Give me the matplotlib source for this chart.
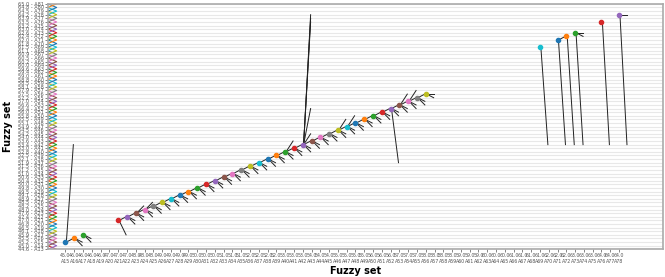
import matplotlib
matplotlib.use("Agg")
from matplotlib import pyplot as plt

# fuzzy sets A13..A81 and their centroids
set_ids = list(range(13, 82))
centroids = [44.65, 44.95, 45.25, 45.55, 45.85, 46.15, 46.45, 46.75, 47.05, 47.35,
             47.65, 47.95, 48.25, 48.55, 48.85, 49.15, 49.45, 49.75, 50.05, 50.35,
             50.65, 50.95, 51.25, 51.55, 51.85, 52.15, 52.45, 52.75, 53.05, 53.35,
             53.65, 53.95, 54.25, 54.55, 54.85, 55.15, 55.45, 55.75, 56.05, 56.35,
             56.65, 56.95, 57.25, 57.55, 57.85, 58.15, 58.45, 58.75, 59.05, 59.35,
             59.65, 59.95, 60.25, 60.55, 60.85, 61.15, 61.45, 61.75, 62.05, 62.35,
             62.65, 62.95, 63.25, 63.55, 63.85, 64.15, 64.45, 64.75, 65.05]
set_width = 0.3

# sets shown on the x axis
xtick_sets = list(range(15, 79))

# rules: LHS set -> RHS sets
lhs_sets = [15, 16, 17, 21, 22, 23, 24, 25, 26, 27, 28, 29, 30, 31, 32, 33, 34, 35,
            36, 37, 38, 39, 40, 41, 42, 43, 44, 45, 46, 47, 48, 49, 50, 51, 52, 53,
            54, 55, 56, 69, 71, 72, 73, 76, 78]
rhs_sets = [[16, 42], [15, 14], [16, 15], [22, 17], [23, 21, 20], [24, 22, 21, 25],
            [25, 23, 22, 26], [26, 24, 23], [27, 25, 24], [28, 26, 25], [29, 27, 26],
            [30, 28, 27], [31, 29, 28], [32, 30, 29], [33, 31, 30], [34, 32, 31],
            [35, 33, 32], [36, 34, 33], [37, 35, 34], [38, 36, 35], [39, 37, 36],
            [40, 38, 37], [41, 39, 38, 43], [42, 40, 39],
            [43, 41, 40, 45, 52, 76, 77, 78], [44, 42, 41], [45, 43, 42], [46, 44, 43],
            [47, 45, 44, 49], [48, 46, 45, 50], [49, 47, 46], [50, 48, 47],
            [51, 49, 48], [52, 50, 49], [53, 51, 50, 37], [54, 52, 51, 56],
            [55, 53, 52, 57], [56, 54, 53], [56, 55], [42], [72, 42], [42],
            [73, 72, 42], [42], [78, 42]]

cent = dict(zip(set_ids, centroids))
first_x = xtick_sets[0]


def xpos(k):
    return k - first_x + 2


fig = plt.figure(figsize=(6.65, 2.77), dpi=100)
ax = fig.add_axes([0.072, 0.10, 0.925, 0.886])

for k in set_ids:
    c = cent[k]
    ax.plot([0, 1, 0], [c - set_width, c, c + set_width], color=f"C{k % 10}", lw=0.8)
    ax.axhline(c, color="lightgray", alpha=0.5, lw=0.8, zorder=0)

for i, (lhs, rhs) in enumerate(zip(lhs_sets, rhs_sets)):
    x = xpos(lhs)
    y = cent[lhs]
    for r in rhs:
        ax.plot([x + 0.1, x + 0.9], [y, cent[r]], color="#222222", lw=0.7, zorder=2)
    ax.plot([x], [y], "o", color=f"C{i % 10}", ms=3, zorder=3)

ax.set_xlim(0, 70)
ax.set_ylim(44.67, 64.89)
ax.set_xticks([xpos(k) for k in xtick_sets])
ax.set_xticklabels([f"{round(cent[k]):.1f}\nA{k}" for k in xtick_sets], fontsize=3.4)
ax.set_yticks(centroids)
ax.set_yticklabels([f"{c:.1f} - A{k}" for k, c in zip(set_ids, centroids)], fontsize=3.6)
ax.tick_params(length=2, width=0.5, pad=1, colors="#555555")
for s in ax.spines.values():
    s.set_color("#aaaaaa")
    s.set_linewidth(1.2)

ax.set_xlabel("Fuzzy set", fontsize=7, fontweight="bold", labelpad=1)
ax.set_ylabel("Fuzzy set", fontsize=7, fontweight="bold", labelpad=3)

fig.savefig("out.png", dpi=100)
